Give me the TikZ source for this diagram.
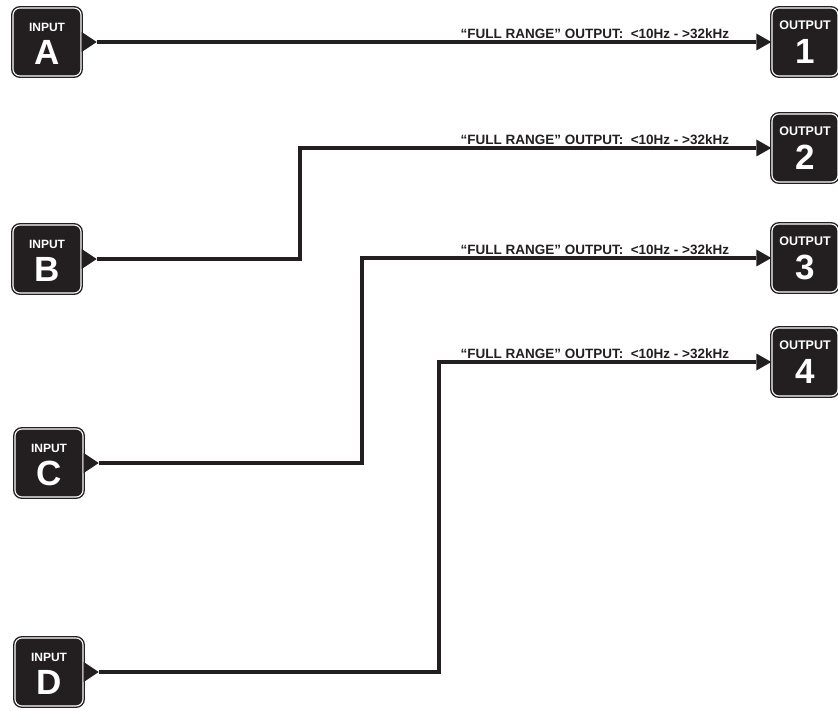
\documentclass[tikz,border=0pt]{standalone}
\usepackage{fontspec}
\setmainfont{Liberation Sans}
\usetikzlibrary{positioning,arrows.meta}
\definecolor{ink}{HTML}{231F20}

\begin{document}
\begin{tikzpicture}[x=1pt,y=-1pt,
  port/.style={draw=ink, fill=ink, line width=1.4pt, double=white, double distance=1.1pt,
    rounded corners=7pt, minimum size=68pt, inner sep=0pt},
  outport/.style={port, minimum width=66pt},
  head/.style={text=white, font=\bfseries\fontsize{12}{12}\selectfont, inner sep=0pt},
  num/.style={text=white, font=\bfseries\fontsize{35}{35}\selectfont, inner sep=0pt},
  wire/.style={draw=ink, line width=4pt, line join=miter,
    {Triangle[reversed,length=15pt,width=20pt,line width=0pt]}-{Triangle[length=15pt,width=17pt,line width=0pt]}},
  bandlabel/.style={font=\bfseries\fontsize{13.5}{13.5}\selectfont, text=ink, inner sep=0pt}]
\useasboundingbox (0,0) rectangle (838,711);

% inputs
\foreach \n/\x/\y in {A/47/42, B/47/259, C/49/463, D/49/672} {
  \node[port] (in\n) at (\x,\y) {};
  \node[head] (in\n-head) at ([yshift=14.5pt]in\n.center) {INPUT};
  \node[num] (in\n-num) at ([yshift=-10.5pt]in\n.center) {\n};
}

% outputs
\foreach \n/\y in {1/42, 2/148, 3/258, 4/362} {
  \node[outport] (out\n) at (805,\y) {};
  \node[head, font=\bfseries\fontsize{12.5}{12.5}\selectfont] (out\n-head) at ([yshift=16.5pt]out\n.center) {OUTPUT};
  \node[num] (out\n-num) at ([yshift=-9pt]out\n.center) {\n};
  \node[bandlabel, above left=3pt and 42pt of out\n.west] (band\n)
    {“FULL RANGE” OUTPUT:\hspace{0.55em}<10Hz - >32kHz};
}

% routing
\draw[wire] (inA.east) -- (out1.west);
\draw[wire] (inB.east) -- ++(218,0) |- (out2.west);
\draw[wire] (inC.east) -- ++(278,0) |- (out3.west);
\draw[wire] (inD.east) -- ++(355,0) |- (out4.west);
\end{tikzpicture}
\end{document}
